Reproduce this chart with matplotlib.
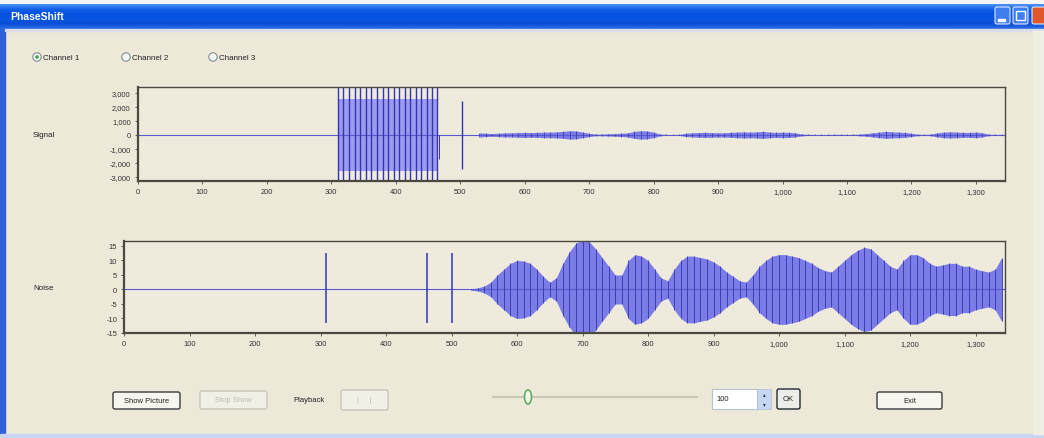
import numpy as np
import matplotlib.pyplot as plt
from matplotlib.patches import Rectangle, Circle, Ellipse, FancyBboxPatch
from matplotlib.colors import LinearSegmentedColormap
from matplotlib.ticker import FuncFormatter

# --- data ---
x_max = 1345

# Signal channel: clipped burst (dark strokes), a single spike, then low-level ripple
burst_x = [311, 319, 328, 337, 345, 354, 362, 371, 380, 388, 397, 405,
           414, 423, 431, 440, 448, 457, 464]
burst_top = 3500
burst_fill = 2600
burst_start, burst_end = 310, 465
signal_spike_x = [503]
signal_spike_hi = [2450]
signal_spike_lo = [-2450]

ripple_start, ripple_step = 530, 10
signal_ripple = [150, 120, 100, 120, 150, 150, 170, 180, 170, 180, 200, 200,
                 220, 250, 300, 280, 200, 120, 60, 60, 80, 100, 120, 150,
                 250, 300, 280, 200, 60, 30, 30, 40, 120, 150, 170, 180,
                 170, 150, 160, 180, 200, 220, 200, 220, 250, 200, 180, 200,
                 180, 150, 60, 40, 30, 30, 30, 40, 40, 30, 40, 60,
                 100, 150, 200, 250, 220, 200, 180, 120, 50, 40, 60, 150,
                 200, 220, 200, 180, 180, 200, 150, 50, 40, 40]

# Noise channel: three spikes, then a beating envelope
noise_spike_x = [308, 462, 500]
noise_spike_hi = [12.5, 12.5, 12.5]
noise_spike_lo = [-11.5, -11.5, -11.5]

noise_env = [0.3, 0.5, 1.2, 2.5, 5, 7, 9, 10, 9.8, 9, 7, 4.5,
             2.5, 4, 9, 13, 16, 17, 16.5, 14, 11, 8, 5, 5,
             10, 12, 11.5, 10, 7, 4, 3, 7, 10, 11.5, 11.5, 11,
             10.5, 9.5, 8, 6, 4.5, 3, 2.5, 5, 8, 10, 11.5, 12,
             12, 11.5, 11, 10, 9, 7.5, 6.5, 6, 8, 10, 12, 13.5,
             14.5, 14, 12, 10, 8, 7, 10, 12, 12, 11, 9, 8,
             8.5, 9, 9, 8, 8, 7, 6.5, 6, 7, 11]

signal_ticks = [-3000, -2000, -1000, 0, 1000, 2000, 3000]
noise_ticks = [-15, -10, -5, 0, 5, 10, 15]
x_ticks = [0, 100, 200, 300, 400, 500, 600, 700, 800, 900, 1000, 1100, 1200, 1300]

channels = ["Channel 1", "Channel 2", "Channel 3"]

# --- colours ---
WIN = "#ECE9D8"
PLOT_BG = "#EEEBDD"
DARK = "#3434ae"
FILL = "#7c7ce6"
BURST_FILL = "#9a9af0"
LINE = "#5a5ad0"
FONT = ["Liberation Sans", "DejaVu Sans"]

W, H = 1044, 439
fig = plt.figure(figsize=(W / 100, H / 100), dpi=100)
fig.patch.set_facecolor(WIN)

# window chrome, in pixel coordinates
bg = fig.add_axes([0, 0, 1, 1])
bg.set_xlim(0, W)
bg.set_ylim(H, 0)
bg.axis("off")

bg.add_patch(Rectangle((0, 0), W, 5, color="#F4F4F4", zorder=0))
title_cmap = LinearSegmentedColormap.from_list(
    "xp", ["#4a90f5", "#1060e8", "#0550de", "#0a55e0", "#0b4fd6", "#2a6ee8"])
bg.imshow(np.linspace(0, 1, 24).reshape(-1, 1), extent=[0, W, 30, 5],
          aspect="auto", cmap=title_cmap, zorder=1)
bg.text(10, 17.5, "PhaseShift", color="white", fontsize=7.5, fontweight="bold",
        va="center", family=FONT, zorder=3)
for bx, col in [(995, "#3f7df0"), (1013, "#3f7df0"), (1032, "#e0582a")]:
    bg.add_patch(FancyBboxPatch((bx, 8), 15, 17, boxstyle="round,pad=0,rounding_size=2",
                                fc=col, ec="#dfe8ff", lw=0.8, zorder=3))
bg.add_patch(Rectangle((997.5, 19.5), 7, 2, color="white", zorder=4))
bg.add_patch(Rectangle((1016, 12), 9, 9, fill=False, ec="white", lw=1.0, zorder=4))
bg.add_patch(Rectangle((0, 30), 5, H - 30, color="#2f62d8", zorder=2))
bg.add_patch(Rectangle((5, 30), W, 2, color="#d8dde8", zorder=2))
bg.add_patch(Rectangle((0, H - 4), W, 4, color="#c9d6f2", zorder=2))
bg.add_patch(Rectangle((1033, 32), 11, H - 36, color="#F1EFE4", zorder=2))

# radio buttons
for i, (cx, name) in enumerate(zip([37, 126, 213], channels)):
    bg.add_patch(Circle((cx, 58), 4.2, fc="#f7f7f2", ec="#7f8c98", lw=0.8, zorder=3))
    if i == 0:
        bg.add_patch(Circle((cx, 58), 1.8, fc="#3fa050", ec="none", zorder=4))
    bg.text(cx + 6, 58, name, fontsize=5.8, va="center", family=FONT, color="#222")

bg.text(33, 136, "Signal", fontsize=5.8, va="center", family=FONT, color="#222")
bg.text(33, 289, "Noise", fontsize=5.8, va="center", family=FONT, color="#222")


def button(x0, x1, y0, y1, label, enabled=True, face="#F6F5EE", edge="#3b3b3b"):
    ec = edge if enabled else "#c8c5b8"
    tc = "#222" if enabled else "#bdbab0"
    bg.add_patch(FancyBboxPatch((x0, y0), x1 - x0, y1 - y0,
                                boxstyle="round,pad=0,rounding_size=2",
                                fc=face, ec=ec, lw=1.0, zorder=3))
    bg.text((x0 + x1) / 2, (y0 + y1) / 2, label, fontsize=5.5, ha="center",
            va="center", family=FONT, color=tc, zorder=4)


button(113, 180, 393, 410, "Show Picture")
button(200, 267, 392, 410, "Stop Show", enabled=False, face="#F2F0E6")
bg.text(293, 401, "Playback", fontsize=5.5, va="center", family=FONT, color="#222")
button(341, 388, 391, 411, "|     |", enabled=False, face="#F2F0E6")

# slider
bg.plot([493, 697], [398, 398], color="#c9c6b6", lw=1.5, zorder=3)
bg.add_patch(Ellipse((528, 398), 7, 14, fc="#f5f5ee", ec="#5fae62", lw=1.2, zorder=4))

# numeric box, spinner and OK
bg.add_patch(Rectangle((712, 390), 45, 20, fc="white", ec="#b5c3d3", lw=0.8, zorder=3))
bg.text(716, 400, "100", fontsize=5.5, va="center", family=FONT, color="#222", zorder=4)
bg.add_patch(Rectangle((757, 390), 14, 20, fc="#c7d6f2", ec="#b5c3d3", lw=0.6, zorder=3))
bg.text(764, 395, "\u25b4", fontsize=4, ha="center", va="center", color="#334", zorder=4)
bg.text(764, 405, "\u25be", fontsize=4, ha="center", va="center", color="#334", zorder=4)
button(777, 800, 390, 410, "OK", face="#EDEDEA", edge="#1f2a33")
button(877, 942, 393, 410, "Exit")


def px_axes(left, right, top, bottom):
    return fig.add_axes([left / W, (H - bottom) / H, (right - left) / W, (bottom - top) / H])


def style(ax, yticks, ylim, fmt):
    ax.set_facecolor(PLOT_BG)
    ax.set_xlim(0, x_max)
    ax.set_ylim(*ylim)
    ax.set_xticks(x_ticks)
    ax.set_yticks(yticks)
    ax.xaxis.set_major_formatter(FuncFormatter(lambda v, p: f"{v:,.0f}"))
    ax.yaxis.set_major_formatter(FuncFormatter(fmt))
    ax.tick_params(labelsize=5.4, length=2, width=0.6, pad=3, colors="#444",
                   labelcolor="#333")
    for lab in ax.get_xticklabels() + ax.get_yticklabels():
        lab.set_family(FONT)
    for side, sp in ax.spines.items():
        sp.set_color("#4a4a40")
        sp.set_linewidth(1.6 if side in ("bottom", "left") else 1.0)


# Signal plot
ax1 = px_axes(137.7, 1005, 88, 182)
style(ax1, signal_ticks, (-3300, 3430), lambda v, p: f"{v:,.0f}")
ax1.plot([0, x_max], [0, 0], color=LINE, lw=0.8)
ax1.fill_between([burst_start, burst_end], -burst_fill, burst_fill, color=BURST_FILL, lw=0)
ax1.vlines(burst_x, -burst_top, burst_top, color=DARK, lw=1.0)
ax1.vlines([burst_end + 2], -1700, 0, color=DARK, lw=0.7)
ax1.vlines(signal_spike_x, signal_spike_lo, signal_spike_hi, color=DARK, lw=1.0)
rx = ripple_start + ripple_step * np.arange(len(signal_ripple))
rv = np.array(signal_ripple)
ax1.fill_between(rx, -rv, rv, color=FILL, lw=0)
ax1.vlines(rx, -rv, rv, color=DARK, lw=0.5)

# Noise plot
ax2 = px_axes(124, 1005, 242, 334)
style(ax2, noise_ticks, (-14.8, 16.7), lambda v, p: f"{v:.0f}")
ax2.plot([0, x_max], [0, 0], color=LINE, lw=0.8)
ax2.vlines(noise_spike_x, noise_spike_lo, noise_spike_hi, color=DARK, lw=1.1)
nx = ripple_start + ripple_step * np.arange(len(noise_env))
nv = np.array(noise_env)
ax2.fill_between(nx, -nv, nv, color=FILL, lw=0)
ax2.vlines(nx, -nv, nv, color=DARK, lw=0.6)

fig.savefig("out.png", dpi=100, facecolor=WIN)
